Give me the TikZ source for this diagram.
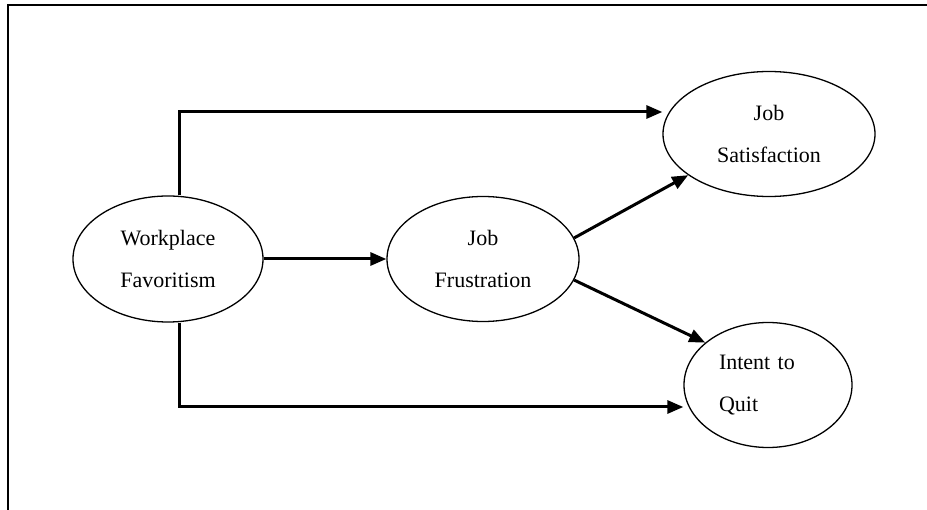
\documentclass[tikz,border=0pt]{standalone}
\usepackage{fontspec}
\setmainfont{Liberation Serif}
\usetikzlibrary{shapes.geometric,arrows.meta}

\tikzset{
  var/.style={draw, ellipse, line width=1.3pt, inner sep=0pt, align=center,
              font=\fontsize{22}{42}\selectfont},
  path arrow/.style={line width=3pt, -{Triangle[length=16pt,width=13pt]}}
}

\begin{document}
\begin{tikzpicture}[x=1pt,y=-1pt]
\useasboundingbox (0,0) rectangle (927,510);
% frame
\draw[line width=2pt] (8,510) -- (8,5) -- (927,5);
% variables
\node[var, minimum width=190pt, minimum height=126pt] (fav) at (168,259) {Workplace\\Favoritism};
\node[var, minimum width=192pt, minimum height=125pt] (fru) at (483,259) {Job\\Frustration};
\node[var, minimum width=212pt, minimum height=125pt] (sat) at (769,134) {Job\\Satisfaction};
\node[var, minimum width=168pt, minimum height=125pt, text width=98pt, align=left] (quit) at (768,385) {Intent to\\Quit};
% paths
\coordinate (top) at (179,112);
\coordinate (bot) at (179,407);
\draw[path arrow] (fav.north -| top) -- (top) -- (top -| sat.west);
\draw[path arrow] (fav.south -| bot) -- (bot) -- (bot -| quit.west);
\draw[path arrow] (fav.east) -- (fru.west);
\draw[path arrow] (fru.13) -- (sat.207);
\draw[path arrow] (fru.-13) -- (quit.146);
\end{tikzpicture}
\end{document}
